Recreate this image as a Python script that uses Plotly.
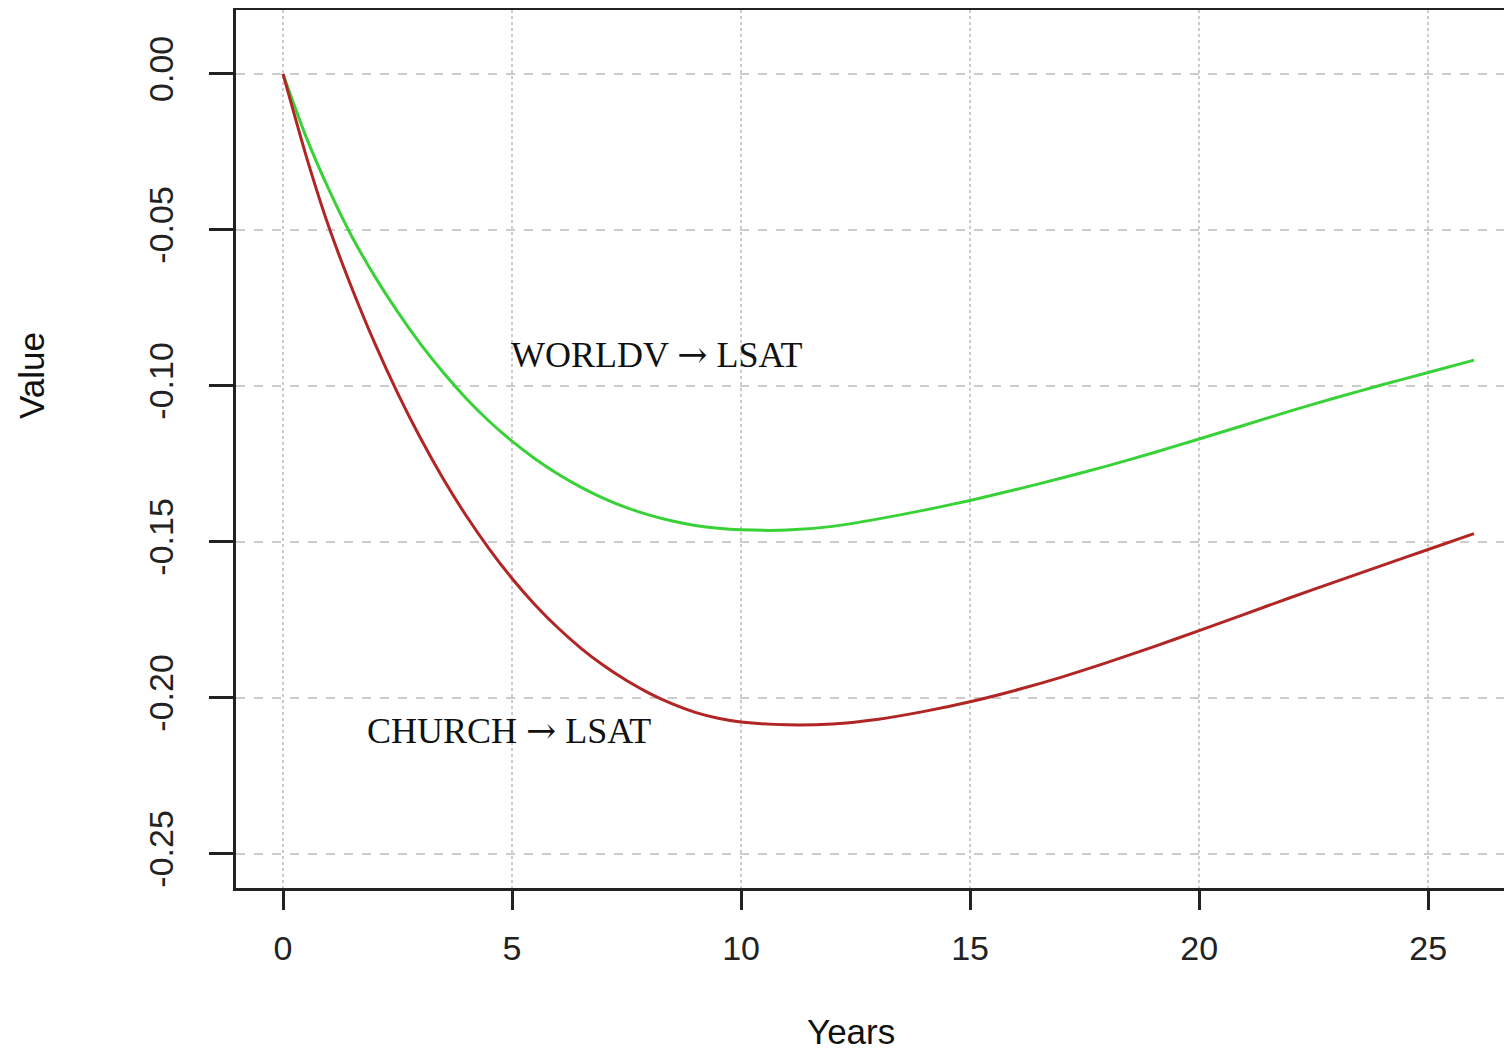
import plotly.graph_objects as go

# Data
years = [0, 0.5, 1, 1.5, 2, 2.5, 3, 3.5, 4, 4.5, 5, 5.5, 6, 6.5, 7, 7.5, 8, 8.5, 9, 9.5,
         10, 11, 12, 13, 14, 15, 16, 17, 18, 19, 20, 21, 22, 23, 24, 25, 26]
worldv_lsat = [0.0, -0.0200, -0.0370, -0.0520, -0.0648, -0.0762, -0.0865, -0.0957, -0.1040,
               -0.1113, -0.1177, -0.1233, -0.1282, -0.1324, -0.1360, -0.1390, -0.1414,
               -0.1433, -0.1447, -0.1456, -0.1461, -0.1462, -0.1450, -0.1426, -0.1398,
               -0.1367, -0.1332, -0.1295, -0.1256, -0.1214, -0.1170, -0.1125, -0.1080,
               -0.1037, -0.0996, -0.0957, -0.0917]
church_lsat = [0.0, -0.0260, -0.0490, -0.0685, -0.0862, -0.1022, -0.1167, -0.1298, -0.1416,
               -0.1522, -0.1617, -0.1701, -0.1775, -0.1840, -0.1896, -0.1944, -0.1985,
               -0.2019, -0.2046, -0.2065, -0.2077, -0.2086, -0.2083, -0.2068, -0.2043,
               -0.2012, -0.1975, -0.1933, -0.1886, -0.1836, -0.1784, -0.1731, -0.1678,
               -0.1626, -0.1575, -0.1524, -0.1473]
x_ticks = [0, 5, 10, 15, 20, 25]
y_ticks = [0.0, -0.05, -0.10, -0.15, -0.20, -0.25]
y_tick_labels = ["0.00", "-0.05", "-0.10", "-0.15", "-0.20", "-0.25"]
labels = ["WORLDV", "CHURCH"]
target = "LSAT"
label_x = [4.93, 1.78]
label_y = [-0.0898, -0.2103]

fig = go.Figure()
fig.add_trace(go.Scatter(x=years, y=worldv_lsat, mode="lines",
                         line=dict(color="#38d238", width=3, shape="spline", smoothing=0.6),
                         name=labels[0] + " -> " + target, showlegend=False))
fig.add_trace(go.Scatter(x=years, y=church_lsat, mode="lines",
                         line=dict(color="#b22525", width=3, shape="spline", smoothing=0.6),
                         name=labels[1] + " -> " + target, showlegend=False))

for t, lx, ly in zip(labels, label_x, label_y):
    txt = t + ' <span style="font-family:DejaVu Serif">\u2192</span> ' + target
    fig.add_annotation(x=lx, y=ly, text=txt, showarrow=False, xanchor="left", yanchor="middle",
                       font=dict(family="Liberation Serif, Times New Roman, serif", size=36, color="#111"))

title_font = dict(family="Liberation Sans, Arial, sans-serif", size=35, color="#111")
fig.add_annotation(xref="paper", yref="paper", x=0.482, y=-0.164, text="Years", showarrow=False,
                   xanchor="center", yanchor="middle", font=title_font)
fig.add_annotation(xref="paper", yref="paper", x=-0.1599, y=0.5843, text="Value", showarrow=False,
                   xanchor="center", yanchor="middle", textangle=-90, font=title_font)

axis_font = dict(family="Liberation Sans, Arial, sans-serif", size=34, color="#222")
fig.update_layout(
    width=1504, height=1043,
    margin=dict(l=228, r=0, t=2, b=163),
    plot_bgcolor="white", paper_bgcolor="white",
    showlegend=False,
    xaxis=dict(
        range=[-1.026, 26.83], tickvals=x_ticks, ticktext=[str(v) for v in x_ticks],
        ticks="outside", ticklen=19, tickwidth=2.5, tickcolor="#222",
        showline=True, linecolor="#222", linewidth=2.5, mirror=True,
        showgrid=True, gridcolor="#cccccc", gridwidth=2, griddash="dot",
        zeroline=False, tickfont=axis_font, ticklabelstandoff=9,
    ),
    yaxis=dict(
        range=[-0.2609, 0.0205], tickvals=y_ticks, ticktext=y_tick_labels,
        ticks="outside", ticklen=24, tickwidth=2.5, tickcolor="#222", tickangle=-90,
        showline=True, linecolor="#222", linewidth=2.5, mirror=False,
        showgrid=True, gridcolor="#cccccc", gridwidth=2, griddash="dash",
        zeroline=False, tickfont=axis_font, ticklabelstandoff=23,
    ),
)

fig.write_html("out.html")
